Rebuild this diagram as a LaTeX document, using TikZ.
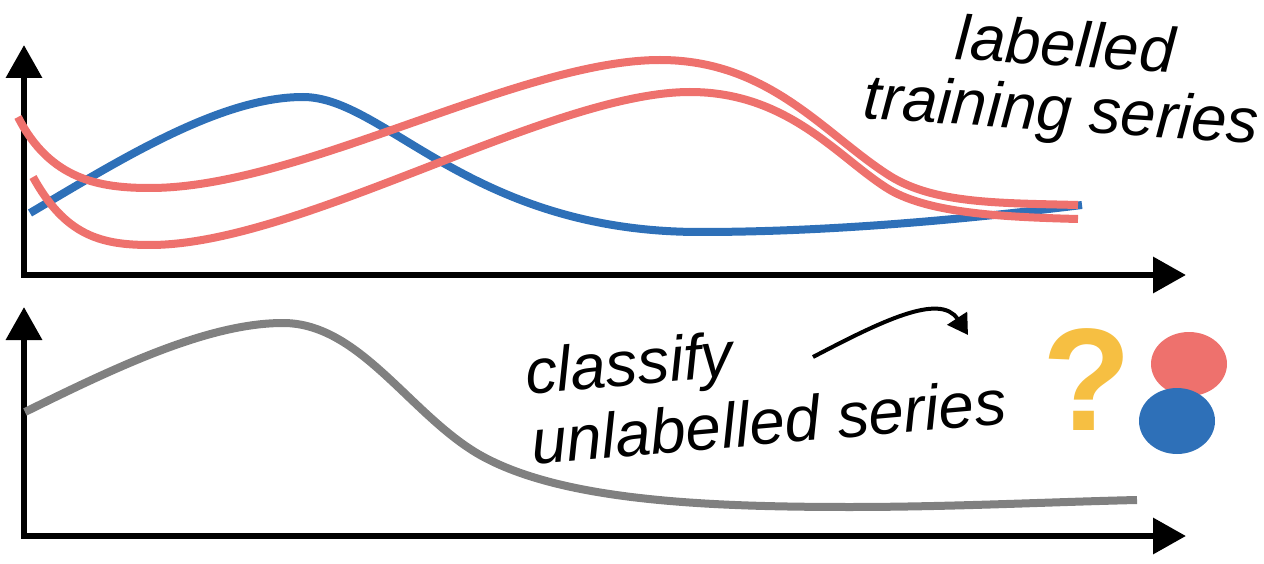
\documentclass[tikz,border=0pt]{standalone}
\usepackage{fontspec}
\setmainfont{Liberation Sans}
\usetikzlibrary{arrows.meta}
\definecolor{cblue}{HTML}{2E70B8}
\definecolor{cred}{HTML}{EE716D}
\definecolor{cgray}{HTML}{808080}
\definecolor{cyellow}{HTML}{F6BF42}
\tikzset{
  axis/.style={line width=6.5pt, {Triangle[length=33pt,width=35pt]}-{Triangle[length=33pt,width=35pt]}},
  series/.style={line width=8pt},
  lbl/.style={inner sep=0pt},
}
\begin{document}
\begin{tikzpicture}[x=1pt,y=-1pt]
\useasboundingbox (0,0) rectangle (1264,564);
% axes
\coordinate (ty) at (24,45);
\coordinate (to) at (24,275);
\coordinate (tx) at (1186,275);
\coordinate (by) at (24,307);
\coordinate (bo) at (24,536);
\coordinate (bx) at (1186,536);
\draw[axis] (ty) -- (to) -- (tx);
\draw[axis] (by) -- (bo) -- (bx);
% series
\draw[series, cblue] (30,213) .. controls (120,160) and (220,97) .. (303,97)
  .. controls (385,97) and (470,232) .. (700,232)
  .. controls (850,232) and (1000,215) .. (1082,205);
\draw[series, cred] (18,117) .. controls (50,180) and (100,188) .. (150,188)
  .. controls (300,188) and (520,60) .. (660,60)
  .. controls (770,60) and (825,135) .. (890,176)
  .. controls (935,204) and (1000,203) .. (1078,205);
\draw[series, cred] (33,177) .. controls (65,235) and (100,245) .. (150,245)
  .. controls (300,245) and (550,92) .. (690,92)
  .. controls (790,92) and (840,160) .. (890,190)
  .. controls (930,213) and (1000,217) .. (1078,219);
\draw[series, cgray] (25,412) .. controls (120,365) and (210,323) .. (283,323)
  .. controls (360,323) and (410,415) .. (480,455)
  .. controls (560,500) and (700,507) .. (850,507)
  .. controls (950,507) and (1050,502) .. (1137,500);
% labels
\node[lbl, rotate=-3.7, anchor=base, align=center, font=\fontsize{63.5}{65}\selectfont\itshape] (train) at (1060,131) {labelled\\training series};
\node[lbl, rotate=5, anchor=base west, align=left, font=\fontsize{63.5}{71}\selectfont\itshape] (cls) at (533,465) {classify\\unlabelled series};
% arrow
\draw[line width=4pt, -{Triangle[length=20pt,width=23pt]}] (813,357) .. controls (880,322) and (940,292) .. (968,335);
% question mark and circles
\node[anchor=base, inner sep=0pt, text=cyellow, font=\fontsize{146}{146}\selectfont\bfseries] (q) at (1087,430) {?};
\fill[cred] (1189,364) ellipse [x radius=38, y radius=32];
\fill[cblue] (1177,421) ellipse [x radius=38, y radius=33];
\end{tikzpicture}
\end{document}
